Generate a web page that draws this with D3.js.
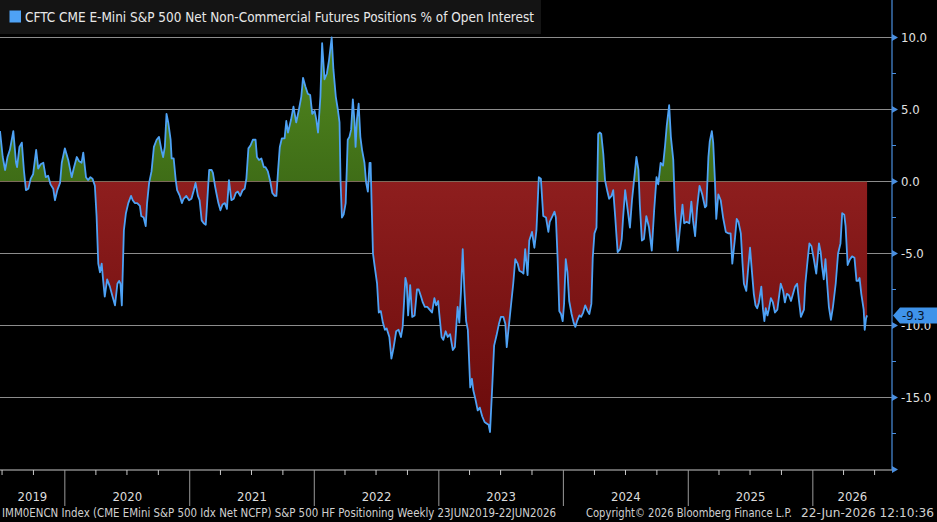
<!DOCTYPE html>
<html>
<head>
<meta charset="utf-8">
<script src="https://cdn.jsdelivr.net/npm/d3@7"></script>
<style>
  body { margin: 0; background: #000; }
  svg { display: block; font-family: "Liberation Sans Narrow", "Arial Narrow", "DejaVu Sans Condensed", sans-serif; }
</style>
</head>
<body>
<div id="chart"></div>
<script>
// weekly observations: [weeks since first report, net position % of OI]
const seriesStart = "2019-06-25";
const obs2019 = [[0,3.5],[1.1,1.7],[2.1,0.8],[3.1,1.7],[4.2,2.2],[5.6,3.5],[6.7,1.3],[7.2,1.0],[8.1,2.4],[9.2,2.7],[10.0,0.8],[10.9,-0.6],[11.8,-0.5],[12.8,0.2],[13.9,0.5],[15.1,2.2],[16.0,0.9],[17.0,1.2],[18.1,1.3],[19.2,0.3],[20.2,0.4],[21.2,-0.2],[22.3,-0.5],[23.0,-1.3],[24.0,-0.6],[25.1,-0.1],[25.9,1.3],[27.2,2.3]];
const obs2020 = [[28.6,1.5],[30.0,0.3],[30.9,0.9],[32.1,1.7],[33.2,1.4],[34.1,1.3],[34.8,2.0],[36.0,0.3],[36.9,0.1],[37.9,0.3],[38.7,0.2],[39.7,-0.3],[40.4,-2.4],[41.2,-5.7],[41.8,-6.3],[42.5,-5.7],[43.2,-6.8],[43.9,-8.0],[44.9,-6.8],[46.0,-7.3],[47.1,-8.0],[48.1,-8.6],[49.1,-7.1],[49.9,-6.9],[50.4,-7.1],[51.0,-8.6],[51.8,-3.4],[52.7,-2.2],[53.7,-1.5],[54.8,-1.0],[55.5,-1.3],[56.4,-1.5],[57.4,-1.5],[58.5,-1.7],[59.2,-2.4],[60.2,-2.5],[61.0,-3.1],[61.6,-1.5],[62.4,-0.1],[63.4,0.7],[64.4,2.4],[65.5,2.9],[66.6,3.1],[67.6,2.2],[68.3,1.7],[69.0,2.4],[69.7,4.7],[70.4,4.1],[71.4,2.9],[71.9,1.6],[72.7,1.6],[73.6,0.1],[74.1,-0.6],[75.3,-1.0],[76.1,-1.5],[76.9,-1.2],[78.0,-1.0],[79.2,-1.3]];
const obs2021 = [[80.1,-1.2],[81.1,-0.6],[81.9,-0.1],[82.9,-1.0],[83.6,-1.3],[84.4,-2.7],[85.3,-2.9],[86.1,-3.0],[86.7,-1.5],[87.5,0.8],[88.5,0.8],[89.2,0.6],[90.0,-0.3],[90.6,-0.8],[91.4,-1.5],[92.3,-2.0],[93.1,-1.6],[94.1,-1.5],[95.0,-1.9],[95.9,0.1],[96.9,-1.3],[97.8,-1.2],[98.7,-0.8],[99.6,-0.7],[100.6,-1.0],[101.5,-0.6],[102.4,-0.5],[103.1,0.2],[104.0,2.3],[104.8,2.5],[105.9,2.9],[107.0,2.9],[107.6,1.7],[108.4,1.5],[109.4,1.6],[110.4,1.0],[111.2,1.0],[112.2,0.7],[113.2,0.0],[114.0,-0.8],[115.0,-1.0],[115.7,-1.0],[116.4,0.8],[117.1,2.4],[118.0,3.0],[119.1,3.0],[119.8,4.2],[120.5,3.4],[121.2,3.8],[121.9,4.3],[122.9,5.2],[124.0,4.1],[125.1,5.0],[126.1,5.9],[126.8,7.2],[127.9,6.6],[128.9,6.1],[129.9,6.0],[130.7,4.7],[131.7,4.9]];
const obs2022 = [[132.4,4.3],[133.1,3.4],[134.1,5.9],[134.9,9.6],[135.9,7.1],[136.8,7.5],[137.7,8.4],[138.8,10.0],[139.6,7.8],[140.5,5.9],[141.4,5.0],[142.1,4.1],[142.6,0.0],[143.1,-2.5],[143.8,-2.3],[144.7,-1.5],[145.6,2.9],[146.3,3.1],[147.0,3.6],[147.7,5.7],[148.4,4.1],[148.8,2.4],[149.4,4.3],[150.1,5.4],[150.8,3.1],[151.6,2.2],[152.5,1.3],[153.3,-0.1],[154.0,-0.7],[154.7,1.3],[155.1,1.3],[155.5,-1.5],[156.1,-5.0],[156.8,-5.9],[157.8,-7.1],[158.6,-9.1],[159.4,-9.0],[160.3,-9.8],[161.1,-10.3],[161.9,-10.2],[163.0,-10.8],[163.9,-12.3],[164.7,-11.6],[165.8,-10.4],[166.9,-10.3],[167.9,-10.8],[168.6,-10.1],[169.7,-6.7],[170.3,-7.1],[170.8,-9.3],[171.7,-7.2],[172.5,-9.4],[173.5,-9.3],[174.5,-7.5],[175.3,-7.5],[176.3,-8.0],[177.0,-8.4],[177.8,-8.7],[178.8,-8.7],[179.8,-8.9],[180.9,-9.1],[181.9,-8.1],[182.6,-8.6],[183.4,-8.3]];
const obs2023 = [[183.9,-9.1],[184.8,-10.8],[185.6,-11.0],[186.5,-10.4],[187.4,-10.8],[188.4,-10.6],[189.5,-11.7],[190.4,-11.5],[191.5,-8.7],[192.3,-9.8],[193.0,-7.6],[193.7,-4.7],[194.4,-7.6],[195.1,-9.7],[195.9,-10.3],[196.8,-14.3],[197.6,-13.7],[198.2,-14.5],[199.0,-15.1],[200.0,-15.9],[200.9,-15.7],[201.8,-16.3],[202.8,-16.7],[203.7,-16.8],[204.6,-16.9],[205.1,-17.4],[206.0,-14.5],[206.9,-11.4],[207.9,-10.7],[208.8,-9.9],[209.7,-9.4],[210.7,-9.4],[211.5,-9.9],[212.1,-11.5],[212.9,-10.3],[213.9,-8.7],[214.9,-7.1],[215.7,-5.4],[216.7,-5.7],[217.4,-6.2],[218.5,-6.3],[219.1,-6.4],[219.9,-4.7],[220.9,-6.5],[221.6,-4.1],[222.7,-3.5],[223.7,-4.6],[224.6,-3.4],[225.5,0.3],[226.4,0.2],[227.4,-2.4],[228.5,-2.5],[229.5,-3.5],[230.2,-2.8],[231.3,-2.4],[232.2,-2.1],[232.7,-2.5],[233.4,-5.3],[234.1,-9.0],[234.8,-9.2]];
const obs2024 = [[235.5,-9.7],[236.2,-8.5],[236.9,-5.4],[237.6,-6.3],[238.3,-8.3],[239.3,-9.2],[240.1,-9.8],[240.8,-10.1],[241.5,-9.7],[242.5,-9.3],[243.3,-9.4],[244.1,-9.1],[245.0,-8.6],[246.0,-9.0],[246.7,-9.2],[247.5,-8.5],[248.1,-5.3],[248.9,-3.6],[249.7,-3.2],[250.4,3.3],[251.1,3.4],[251.7,3.3],[252.5,1.9],[253.3,0.1],[254.3,-0.7],[255.0,-1.2],[256.0,-1.0],[256.7,-0.6],[257.5,-2.5],[258.1,-3.9],[258.6,-4.9],[259.5,-4.7],[260.3,-4.0],[260.9,-2.5],[261.7,-0.6],[262.7,-1.9],[263.7,-3.2],[264.5,-1.3],[265.5,0.3],[266.4,1.7],[267.3,0.8],[267.8,-1.6],[268.7,-4.1],[269.6,-4.0],[270.6,-2.4],[271.7,-3.2],[272.9,-4.8],[273.8,-2.0],[274.8,0.3],[275.6,-0.2],[276.6,1.3],[277.6,1.1],[278.4,2.5],[279.1,3.9],[280.1,5.3],[280.8,3.1],[281.8,1.5],[282.6,-2.0],[283.7,-4.8],[284.6,-3.4],[285.7,-1.6],[286.4,-2.9]];
const obs2025 = [[287.4,-2.8],[288.5,-2.9],[289.4,-1.4],[290.1,-2.7],[291.0,-3.8],[291.9,-1.8],[292.9,-0.3],[294.0,-0.9],[295.1,-1.8],[295.7,-1.7],[296.5,1.7],[297.2,2.8],[298.0,3.5],[298.6,2.7],[299.3,0.1],[299.9,-2.6],[300.7,-0.9],[301.7,-1.3],[302.7,-2.5],[303.8,-3.5],[304.9,-3.6],[305.9,-3.6],[306.6,-5.7],[307.7,-3.9],[308.4,-2.6],[309.1,-2.8],[310.1,-3.6],[310.8,-5.7],[311.4,-7.1],[312.4,-7.6],[313.3,-5.9],[314.0,-4.6],[314.7,-6.1],[315.6,-7.8],[316.3,-8.6],[317.0,-8.8],[317.7,-8.4],[318.7,-7.3],[319.4,-8.9],[320.0,-9.7],[320.5,-8.8],[321.3,-9.3],[321.9,-8.9],[322.7,-8.1],[323.6,-8.4],[324.4,-9.1],[325.4,-8.9],[326.1,-8.0],[326.9,-7.1],[327.8,-7.6],[328.6,-8.4],[329.4,-7.8],[330.3,-7.9],[331.1,-8.3],[332.0,-7.8],[332.8,-7.3],[333.7,-7.1],[334.4,-8.2],[335.3,-9.4],[336.5,-8.9],[337.2,-7.1]];
const obs2026 = [[338.1,-5.4],[338.9,-4.3],[339.7,-4.5],[340.7,-5.4],[341.7,-6.4],[342.8,-4.3],[343.5,-4.9],[344.2,-5.9],[344.9,-6.8],[345.6,-5.4],[346.3,-7.1],[347.0,-8.7],[347.8,-9.6],[348.7,-8.7],[349.8,-7.1],[350.9,-5.0],[351.9,-4.3],[352.6,-2.2],[353.4,-2.3],[354.0,-3.1],[354.8,-5.8],[355.8,-5.4],[356.7,-5.2],[357.7,-5.3],[358.6,-6.9],[359.3,-6.9],[359.8,-6.7],[360.6,-7.8],[361.5,-8.9],[362.0,-10.3],[362.6,-9.5],[363.0,-9.3]];

const yMajor = [10, 5, 0, -5, -10, -15, -20];
const yMinor = [7.5, 2.5, -2.5, -7.5, -12.5, -17.5];
const years = [2019, 2020, 2021, 2022, 2023, 2024, 2025, 2026];
const lastValue = -9.3;
const titleText = "CFTC CME E-Mini S&P 500 Net Non-Commercial Futures Positions % of Open Interest";
const footLeft = "IMM0ENCN Index (CME EMini S&P 500 Idx Net NCFP) S&P 500 HF Positioning Weekly 23JUN2019-22JUN2026";
const footMid = "Copyright\u00a9 2026 Bloomberg Finance L.P.";
const footRight = "22-Jun-2026 12:10:36";

const W = 937, H = 522;
const plotW = 892, plotB = 469.5;

const parse = d3.timeParse("%Y-%m-%d");
const t0 = parse(seriesStart);
const data = [].concat(obs2019, obs2020, obs2021, obs2022, obs2023, obs2024, obs2025, obs2026)
  .map(d => ({ date: d3.timeDay.offset(t0, Math.round(d[0] * 7)), v: d[1] }));

const x = d3.scaleTime().domain([t0, parse("2026-08-21")]).range([0, plotW]);
const y = d3.scaleLinear().domain([-20, 10]).range([plotB, 37.5]);

const svg = d3.select("#chart").append("svg")
    .attr("width", W)
    .attr("height", H);

svg.append("rect").attr("width", W).attr("height", H).attr("fill", "#000");

const defs = svg.append("defs");
const gGreen = defs.append("linearGradient").attr("id", "gGreen")
    .attr("gradientUnits", "userSpaceOnUse").attr("x1", 0).attr("x2", 0)
    .attr("y1", y(10)).attr("y2", y(0));
gGreen.append("stop").attr("offset", 0).attr("stop-color", "#52891f");
gGreen.append("stop").attr("offset", 1).attr("stop-color", "#3f6d17");
const gRed = defs.append("linearGradient").attr("id", "gRed")
    .attr("gradientUnits", "userSpaceOnUse").attr("x1", 0).attr("x2", 0)
    .attr("y1", y(0)).attr("y2", y(-17.5));
gRed.append("stop").attr("offset", 0).attr("stop-color", "#8e1e1e");
gRed.append("stop").attr("offset", 1).attr("stop-color", "#6a0b0b");

defs.append("clipPath").attr("id", "above").append("rect")
    .attr("x", 0).attr("y", 0).attr("width", plotW).attr("height", y(0));
defs.append("clipPath").attr("id", "below").append("rect")
    .attr("x", 0).attr("y", y(0)).attr("width", plotW).attr("height", plotB - y(0));

// gridlines
svg.append("g").selectAll("line")
  .data(yMajor.filter(d => d > -20))
  .enter().append("line")
    .attr("x1", 0).attr("x2", plotW)
    .attr("y1", d => y(d)).attr("y2", d => y(d))
    .attr("stroke", "#8c8c8c").attr("stroke-width", 1);

// filled areas
const area = d3.area()
    .x(d => x(d.date))
    .y0(y(0))
    .y1(d => y(d.v));

svg.append("path").datum(data)
    .attr("d", area).attr("fill", "url(#gGreen)").attr("clip-path", "url(#above)");
svg.append("path").datum(data)
    .attr("d", area).attr("fill", "url(#gRed)").attr("clip-path", "url(#below)");

// line
const line = d3.line().x(d => x(d.date)).y(d => y(d.v));
svg.append("path").datum(data)
    .attr("d", line)
    .attr("fill", "none")
    .attr("stroke", "#4ea2f5")
    .attr("stroke-width", 1.8)
    .attr("stroke-linejoin", "round");

// right axis
const axisBlue = "#4a8fe0";
const yAxis = svg.append("g").attr("transform", `translate(${plotW},0)`);
yAxis.append("line").attr("x1", 0).attr("x2", 0).attr("y1", 0).attr("y2", plotB)
    .attr("stroke", axisBlue).attr("stroke-width", 1.2);
yAxis.selectAll(".tri").data(yMajor).enter().append("path")
    .attr("d", d => `M0,${y(d) - 3.5}L6,${y(d)}L0,${y(d) + 3.5}Z`)
    .attr("fill", axisBlue);
yAxis.selectAll(".minor").data(yMinor).enter().append("line")
    .attr("x1", 0).attr("x2", 4).attr("y1", d => y(d)).attr("y2", d => y(d))
    .attr("stroke", axisBlue);
yAxis.selectAll(".lbl").data(yMajor.filter(d => d > -20)).enter().append("text")
    .attr("x", 9).attr("y", d => y(d)).attr("dy", "0.35em")
    .attr("fill", "#e2e2e2").style("font-size", "13px")
    .text(d => d.toFixed(1));

// last value tag (covers part of the -10.0 label, as in the terminal)
const yl = y(lastValue);
svg.append("path")
    .attr("d", `M${plotW + 1},${yl}L${plotW + 8},${yl - 8}L${W},${yl - 8}L${W},${yl + 8}L${plotW + 8},${yl + 8}Z`)
    .attr("fill", "#3f93ea");
svg.append("text")
    .attr("x", plotW + 10).attr("y", yl).attr("dy", "0.36em")
    .attr("fill", "#08142a").style("font-size", "13px")
    .text(lastValue.toFixed(1));

// bottom time axis
const xAxisY = plotB + 0.5;
svg.append("line").attr("x1", 0).attr("x2", plotW).attr("y1", xAxisY).attr("y2", xAxisY)
    .attr("stroke", "#c8c8c8").attr("stroke-width", 1);
const quarters = d3.timeMonth.every(3).range(t0, x.domain()[1]).filter(d => d.getMonth() !== 0);
svg.append("g").selectAll("line").data(quarters).enter().append("line")
    .attr("x1", d => x(d)).attr("x2", d => x(d))
    .attr("y1", xAxisY).attr("y2", xAxisY + 5)
    .attr("stroke", "#c8c8c8");
const yearStarts = years.slice(1).map(yr => new Date(yr, 0, 1));
svg.append("g").selectAll("line").data(yearStarts).enter().append("line")
    .attr("x1", d => x(d)).attr("x2", d => x(d))
    .attr("y1", xAxisY).attr("y2", 506)
    .attr("stroke", "#9a9a9a");
svg.append("g").selectAll("text").data(years).enter().append("text")
    .attr("x", yr => {
      const a = Math.max(0, x(new Date(yr, 0, 1)));
      const b = Math.min(plotW, x(new Date(yr + 1, 0, 1)));
      return (a + b) / 2;
    })
    .attr("y", 501)
    .attr("text-anchor", "middle")
    .attr("fill", "#dcdcdc").style("font-size", "13px")
    .text(yr => yr);

// legend box
svg.append("rect").attr("x", 0).attr("y", 0).attr("width", 541).attr("height", 34).attr("fill", "#141414");
svg.append("rect").attr("x", 9.5).attr("y", 10.5).attr("width", 11.5).attr("height", 12).attr("fill", "#4ea2f5");
svg.append("text").attr("x", 25).attr("y", 21.5)
    .attr("fill", "#e8e8e8").style("font-size", "13.5px")
    .attr("textLength", 509).attr("lengthAdjust", "spacingAndGlyphs")
    .text(titleText);

// footer
const foot = svg.append("g").attr("fill", "#d0d0d0").style("font-size", "11.5px");
foot.append("text").attr("x", 2).attr("y", 517)
    .attr("textLength", 554).attr("lengthAdjust", "spacingAndGlyphs").text(footLeft);
foot.append("text").attr("x", 586).attr("y", 517)
    .attr("textLength", 206).attr("lengthAdjust", "spacingAndGlyphs").text(footMid);
foot.append("text").attr("x", 801).attr("y", 517)
    .attr("textLength", 133).attr("lengthAdjust", "spacingAndGlyphs").text(footRight);
</script>
</body>
</html>
